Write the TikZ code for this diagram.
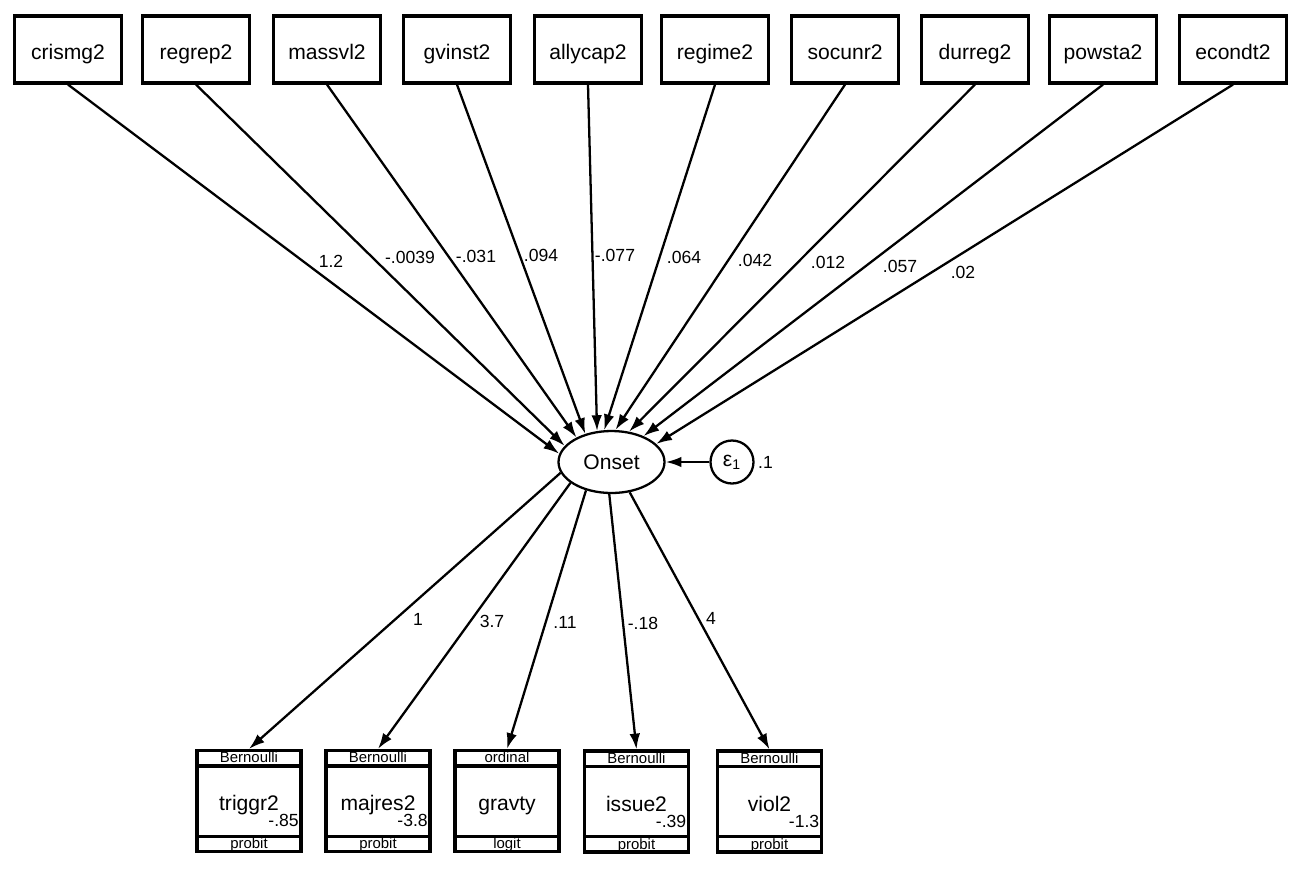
\documentclass[tikz,border=0pt]{standalone}
\usepackage{fontspec}
\setmainfont{Liberation Sans}
\usetikzlibrary{shapes.geometric,arrows.meta}

\begin{document}
\begin{tikzpicture}[x=0.02cm, y=-0.02cm,
    obsbox/.style={draw, line width=1.8pt, minimum width=2.14cm, minimum height=1.34cm, text height=11pt, text depth=0pt, font=\fontsize{12}{14}\selectfont},
    genbox/.style={draw, line width=1.8pt, minimum width=2.08cm, minimum height=2.02cm, text height=11pt, text depth=0pt, font=\fontsize{12}{14}\selectfont},
    latent/.style={draw, ellipse, line width=1.3pt, minimum width=2.12cm, minimum height=1.24cm, font=\fontsize{12}{14}\selectfont},
    errc/.style={draw, circle, line width=1.3pt, minimum size=0.86cm, inner sep=0pt, font=\fontsize{12}{14}\selectfont},
    regpath/.style={line width=1.3pt, -{Latex[length=9pt,width=6pt]}},
    coef/.style={font=\fontsize{10}{12}\selectfont, inner sep=1pt},
    fam/.style={font=\fontsize{8.5}{10}\selectfont, inner sep=0pt},
    cons/.style={font=\fontsize{10}{12}\selectfont, inner sep=1pt, anchor=south east}]
    \useasboundingbox (0,0) rectangle (1312,880);

    % Observed predictors
    \node[obsbox] (crismg2) at (68,49.5) {crismg2};
    \node[obsbox] (regrep2) at (196,49.5) {regrep2};
    \node[obsbox] (massvl2) at (327,49.5) {massvl2};
    \node[obsbox] (gvinst2) at (457,49.5) {gvinst2};
    \node[obsbox] (allycap2) at (588,49.5) {allycap2};
    \node[obsbox] (regime2) at (715,49.5) {regime2};
    \node[obsbox] (socunr2) at (845,49.5) {socunr2};
    \node[obsbox] (durreg2) at (975,49.5) {durreg2};
    \node[obsbox] (powsta2) at (1103,49.5) {powsta2};
    \node[obsbox] (econdt2) at (1233,49.5) {econdt2};

    % Latent variable and its error
    \node[latent] (Onset) at (611.5,462) {Onset};
    \node[errc] (eps) at (732,462) {ε\textsubscript{1}};
    \node[coef, anchor=west] (epsvar) at (756,462) {.1};
    \draw[regpath] (eps) -- (Onset);

    % Paths into Onset
    \draw[regpath] (crismg2.south) -- (Onset.171.6);
    \draw[regpath] (regrep2.south) -- (Onset.161.1);
    \draw[regpath] (massvl2.south) -- (Onset.145.2);
    \draw[regpath] (gvinst2.south) -- (Onset.133.7);
    \draw[regpath] (allycap2.south) -- (Onset.115.2);
    \draw[regpath] (regime2.south) -- (Onset.103);
    \draw[regpath] (socunr2.south) -- (Onset.83.9);
    \draw[regpath] (durreg2.south) -- (Onset.60.1);
    \draw[regpath] (powsta2.south) -- (Onset.39.1);
    \draw[regpath] (econdt2.south) -- (Onset.22.5);

    \node[coef] (b1) at (331,261) {1.2};
    \node[coef] (b2) at (410,257) {-.0039};
    \node[coef] (b3) at (476,256) {-.031};
    \node[coef] (b4) at (541,255) {.094};
    \node[coef] (b5) at (615,255) {-.077};
    \node[coef] (b6) at (684,257) {.064};
    \node[coef] (b7) at (755,260) {.042};
    \node[coef] (b8) at (828,262) {.012};
    \node[coef] (b9) at (900,266) {.057};
    \node[coef] (b10) at (963,272) {.02};

    % Generalized responses
    \node[genbox] (triggr2) at (249,801) {triggr2};
    \node[genbox] (majres2) at (378,801) {majres2};
    \node[genbox] (gravty) at (507,801) {gravty};
    \node[genbox] (issue2) at (636.5,801.5) {issue2};
    \node[genbox] (viol2) at (769.5,801.5) {viol2};

    \draw[line width=1.8pt] ([yshift=-0.34cm]triggr2.north west) -- ([yshift=-0.34cm]triggr2.north east);
    \draw[line width=1.8pt] ([yshift=0.34cm]triggr2.south west) -- ([yshift=0.34cm]triggr2.south east);
    \draw[line width=1.8pt] ([yshift=-0.34cm]majres2.north west) -- ([yshift=-0.34cm]majres2.north east);
    \draw[line width=1.8pt] ([yshift=0.34cm]majres2.south west) -- ([yshift=0.34cm]majres2.south east);
    \draw[line width=1.8pt] ([yshift=-0.34cm]gravty.north west) -- ([yshift=-0.34cm]gravty.north east);
    \draw[line width=1.8pt] ([yshift=0.34cm]gravty.south west) -- ([yshift=0.34cm]gravty.south east);
    \draw[line width=1.8pt] ([yshift=-0.34cm]issue2.north west) -- ([yshift=-0.34cm]issue2.north east);
    \draw[line width=1.8pt] ([yshift=0.34cm]issue2.south west) -- ([yshift=0.34cm]issue2.south east);
    \draw[line width=1.8pt] ([yshift=-0.34cm]viol2.north west) -- ([yshift=-0.34cm]viol2.north east);
    \draw[line width=1.8pt] ([yshift=0.34cm]viol2.south west) -- ([yshift=0.34cm]viol2.south east);

    \node[fam] (f1) at ([yshift=-0.17cm]triggr2.north) {Bernoulli};
    \node[fam] (f2) at ([yshift=-0.17cm]majres2.north) {Bernoulli};
    \node[fam] (f3) at ([yshift=-0.17cm]gravty.north) {ordinal};
    \node[fam] (f4) at ([yshift=-0.17cm]issue2.north) {Bernoulli};
    \node[fam] (f5) at ([yshift=-0.17cm]viol2.north) {Bernoulli};
    \node[fam] (k1) at ([yshift=0.16cm]triggr2.south) {probit};
    \node[fam] (k2) at ([yshift=0.16cm]majres2.south) {probit};
    \node[fam] (k3) at ([yshift=0.16cm]gravty.south) {logit};
    \node[fam] (k4) at ([yshift=0.16cm]issue2.south) {probit};
    \node[fam] (k5) at ([yshift=0.16cm]viol2.south) {probit};

    \node[cons] (c1) at ([xshift=-1pt, yshift=0.48cm]triggr2.south east) {-.85};
    \node[cons] (c2) at ([xshift=-1pt, yshift=0.48cm]majres2.south east) {-3.8};
    \node[cons] (c4) at ([xshift=-1pt, yshift=0.48cm]issue2.south east) {-.39};
    \node[cons] (c5) at ([xshift=-1pt, yshift=0.48cm]viol2.south east) {-1.3};

    % Paths out of Onset
    \draw[regpath] (Onset.192.5) -- (triggr2.north);
    \draw[regpath] (Onset.207.8) -- (majres2.north);
    \draw[regpath] (Onset.228.8) -- (gravty.north);
    \draw[regpath] (Onset.266.5) -- (issue2.north);
    \draw[regpath] (Onset.301.4) -- (viol2.north);

    \node[coef] (l1) at (418,619) {1};
    \node[coef] (l2) at (492,621) {3.7};
    \node[coef] (l3) at (565,622) {.11};
    \node[coef] (l4) at (643,623) {-.18};
    \node[coef] (l5) at (711,618) {4};
\end{tikzpicture}
\end{document}
